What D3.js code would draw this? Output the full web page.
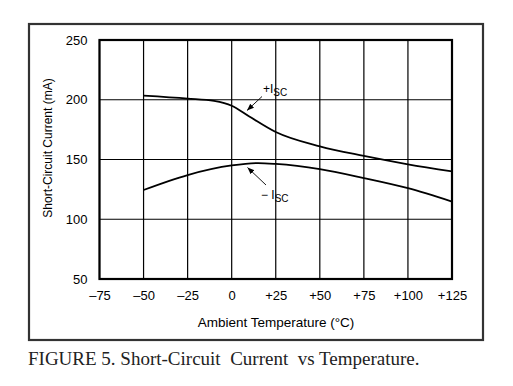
<!DOCTYPE html>
<html>
<head>
<meta charset="utf-8">
<script src="https://cdn.jsdelivr.net/npm/d3@7"></script>
<style>
  body { margin: 0; background: #fff; }
  svg text { font-family: "Liberation Sans", Arial, sans-serif; fill: #000; }
</style>
</head>
<body>
<svg id="chart" width="513" height="386"></svg>
<script>
const X_TICKS = [-75, -50, -25, 0, 25, 50, 75, 100, 125];
const Y_TICKS = [50, 100, 150, 200, 250];

const TEMPS_POS = [-50, -25, -10, 0, 10, 25, 50, 75, 100, 125];
const ISC_POS = [203.5, 201, 199, 195, 186, 173, 161, 153, 146, 140];

const TEMPS_NEG = [-50, -25, 0, 15, 25, 50, 75, 100, 125];
const ISC_NEG = [124.5, 137, 145, 147, 146.3, 142, 134.5, 126, 114.8];

const svg = d3.select('#chart');

const margin = { left: 99.5, right: 61, top: 40, bottom: 107 };
const width = 513 - margin.left - margin.right;
const height = 386 - margin.top - margin.bottom;

// outer frame
svg.append('rect')
    .attr('x', 29)
    .attr('y', 24)
    .attr('width', 454)
    .attr('height', 316)
    .attr('fill', 'none')
    .attr('stroke', '#333')
    .attr('stroke-width', 2.2);

const g = svg.append('g')
    .attr('transform', `translate(${margin.left},${margin.top})`);

const xScale = d3.scaleLinear().domain([-75, 125]).range([0, width]);
const yScale = d3.scaleLinear().domain([50, 250]).range([height, 0]);

// grid
g.append('g')
    .selectAll('line')
    .data(X_TICKS)
    .enter()
    .append('line')
    .attr('x1', d => xScale(d))
    .attr('x2', d => xScale(d))
    .attr('y1', 0)
    .attr('y2', height)
    .attr('stroke', '#000')
    .attr('stroke-width', 1.2);

g.append('g')
    .selectAll('line')
    .data(Y_TICKS)
    .enter()
    .append('line')
    .attr('x1', 0)
    .attr('x2', width)
    .attr('y1', d => yScale(d))
    .attr('y2', d => yScale(d))
    .attr('stroke', '#000')
    .attr('stroke-width', 1.2);

g.append('rect')
    .attr('width', width)
    .attr('height', height)
    .attr('fill', 'none')
    .attr('stroke', '#000')
    .attr('stroke-width', 2.2);

// axes (labels only)
const xAxis = g.append('g')
    .attr('transform', `translate(0,${height})`)
    .call(d3.axisBottom(xScale)
        .tickValues(X_TICKS)
        .tickSize(0)
        .tickPadding(12)
        .tickFormat(d => d > 0 ? '+' + d : (d < 0 ? '\u2013' + Math.abs(d) : '0')));
xAxis.select('.domain').remove();
xAxis.selectAll('text').style('font-size', '13px');

const yAxis = g.append('g')
    .call(d3.axisLeft(yScale)
        .tickValues(Y_TICKS)
        .tickSize(0)
        .tickPadding(12));
yAxis.select('.domain').remove();
yAxis.selectAll('text').style('font-size', '13px');

// curves
const line = d3.line()
    .x(d => xScale(d[0]))
    .y(d => yScale(d[1]))
    .curve(d3.curveMonotoneX);

g.append('path')
    .datum(d3.zip(TEMPS_POS, ISC_POS))
    .attr('d', line)
    .attr('fill', 'none')
    .attr('stroke', '#000')
    .attr('stroke-width', 1.8);

g.append('path')
    .datum(d3.zip(TEMPS_NEG, ISC_NEG))
    .attr('d', line)
    .attr('fill', 'none')
    .attr('stroke', '#000')
    .attr('stroke-width', 1.8);

// arrows + labels
svg.append('defs').append('marker')
    .attr('id', 'arrow')
    .attr('viewBox', '0 0 10 10')
    .attr('refX', 10)
    .attr('refY', 5)
    .attr('markerWidth', 7)
    .attr('markerHeight', 7)
    .attr('orient', 'auto')
    .attr('markerUnits', 'userSpaceOnUse')
    .append('path')
    .attr('d', 'M0,1 L10,5 L0,9 Z')
    .attr('fill', '#000');

svg.append('line')
    .attr('x1', 262).attr('y1', 96.5)
    .attr('x2', 247).attr('y2', 110.5)
    .attr('stroke', '#000')
    .attr('stroke-width', 0.9)
    .attr('marker-end', 'url(#arrow)');

svg.append('line')
    .attr('x1', 266).attr('y1', 185)
    .attr('x2', 247.5).attr('y2', 167.5)
    .attr('stroke', '#000')
    .attr('stroke-width', 0.9)
    .attr('marker-end', 'url(#arrow)');

const posLabel = svg.append('text')
    .attr('x', 263)
    .attr('y', 93)
    .style('font-size', '12px');
posLabel.append('tspan').text('+I');
posLabel.append('tspan').attr('dy', 3).style('font-size', '10px').text('SC');

const negLabel = svg.append('text')
    .attr('x', 261)
    .attr('y', 199)
    .style('font-size', '12px');
negLabel.append('tspan').text('\u2212 I');
negLabel.append('tspan').attr('dy', 3).style('font-size', '10px').text('SC');

// axis titles
svg.append('text')
    .attr('x', 276)
    .attr('y', 327)
    .attr('text-anchor', 'middle')
    .style('font-size', '13.5px')
    .text('Ambient Temperature (\u00B0C)');

svg.append('text')
    .attr('transform', 'translate(52,148) rotate(-90)')
    .attr('text-anchor', 'middle')
    .style('font-size', '12px')
    .text('Short-Circuit Current (mA)');

svg.append('text')
    .attr('x', 28)
    .attr('y', 365)
    .attr('xml:space', 'preserve')
    .style('font-family', '"Liberation Serif", "Times New Roman", serif')
    .style('font-size', '19px')
    .style('fill', '#222')
    .style('white-space', 'pre')
    .text('FIGURE 5. Short-Circuit  Current  vs Temperature.');
</script>
</body>
</html>
